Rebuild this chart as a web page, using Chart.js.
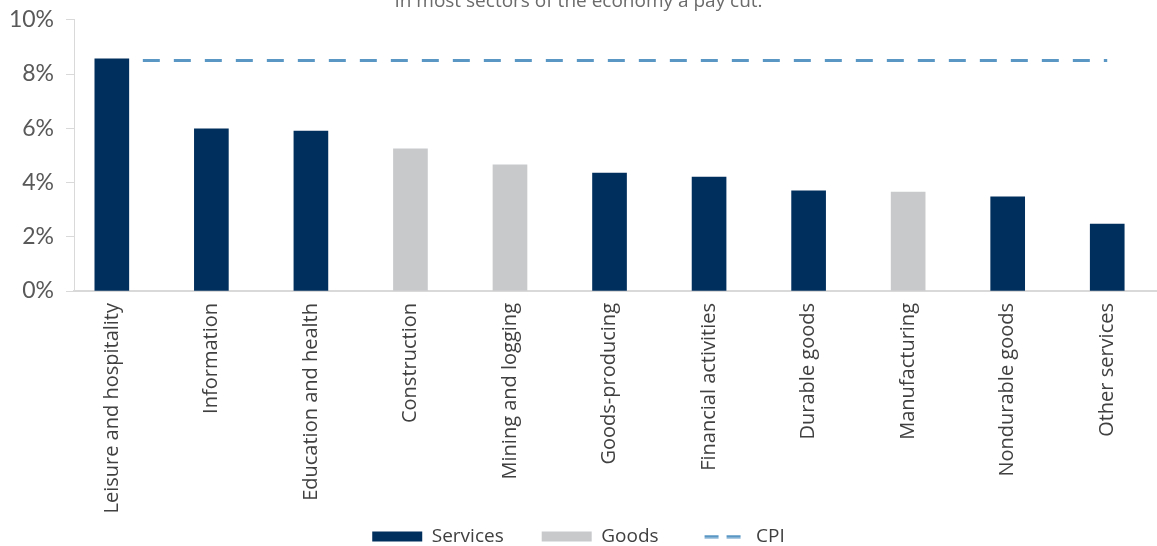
<!DOCTYPE html>
<html lang="en">
<head>
    <meta charset="UTF-8">
    <title>Wage growth by sector vs CPI</title>
    <style>
        html, body { margin: 0; padding: 0; background: #fff; }
        .chart-container { position: relative; width: 1157px; height: 546px; }
    </style>
</head>
<body>
    <div class="chart-container">
        <canvas id="wageChart"></canvas>
    </div>
    <script src="https://cdn.jsdelivr.net/npm/chart.js"></script>
    <script>
        const sectors = ['Leisure and hospitality', 'Information', 'Education and health', 'Construction',
            'Mining and logging', 'Goods-producing', 'Financial activities', 'Durable goods',
            'Manufacturing', 'Nondurable goods', 'Other services'];
        // yoy wage growth, % (null where the sector belongs to the other group)
        const services = [8.56, 5.98, 5.9, null, null, 4.35, 4.2, 3.69, null, 3.47, 2.47];
        const goods = [null, null, null, 5.24, 4.65, null, null, null, 3.65, null, null];
        const cpi = [8.5, 8.5, 8.5, 8.5, 8.5, 8.5, 8.5, 8.5, 8.5, 8.5, 8.5];
        const yTicks = [0, 2, 4, 6, 8, 10];

        const toPoints = arr => arr.map((v, i) => ({ x: i, y: v }));
        const font = 'Open Sans';
        const cpiColor = '#5a97c5';

        // two short dashes for the CPI legend entry
        const dashIcon = document.createElement('canvas');
        dashIcon.width = 50;
        dashIcon.height = 4;
        const dctx = dashIcon.getContext('2d');
        dctx.fillStyle = cpiColor;
        dctx.fillRect(8, 0.5, 14, 3);
        dctx.fillRect(30, 0.5, 14, 3);

        new Chart(document.getElementById('wageChart'), {
            type: 'bar',
            data: {
                datasets: [
                    {
                        label: 'Services',
                        data: toPoints(services),
                        backgroundColor: '#002f5d',
                        barThickness: 34,
                        pointStyle: 'rect',
                        borderWidth: 0,
                    },
                    {
                        label: 'Goods',
                        data: toPoints(goods),
                        backgroundColor: '#c8c9cb',
                        barThickness: 34,
                        pointStyle: 'rect',
                        borderWidth: 0,
                    },
                    {
                        type: 'line',
                        label: 'CPI',
                        data: toPoints(cpi),
                        borderColor: cpiColor,
                        backgroundColor: cpiColor,
                        borderWidth: 3,
                        borderDash: [17, 14],
                        pointRadius: 0,
                        pointStyle: dashIcon,
                    },
                ],
            },
            options: {
                responsive: true,
                maintainAspectRatio: false,
                animation: false,
                skipNull: true,
                layout: { padding: { top: -10, right: 0, left: 0, bottom: -10 } },
                plugins: {
                    title: {
                        display: true,
                        text: 'In most sectors of the economy a pay cut.',
                        color: '#6b6b6b',
                        font: { family: font, size: 19, weight: 'normal' },
                        padding: { top: 0, bottom: 7 },
                    },
                    legend: {
                        position: 'bottom',
                        labels: {
                            usePointStyle: true,
                            pointStyleWidth: 50,
                            boxHeight: 10,
                            padding: 38,
                            color: '#404040',
                            font: { family: font, size: 19 },
                        },
                    },
                    tooltip: { enabled: false },
                },
                scales: {
                    x: {
                        type: 'linear',
                        offset: false,
                        min: -0.38,
                        max: 10.5,
                        afterFit: s => {
                            s.height = 198;
                            // let the long rotated labels run down past the axis box
                            s._computeLabelArea = () => undefined;
                        },
                        afterBuildTicks: s => { s.ticks = sectors.map((_, i) => ({ value: i })); },
                        grid: { display: false },
                        border: { color: '#d9d9d9', width: 2 },
                        ticks: {
                            autoSkip: false,
                            minRotation: 90,
                            maxRotation: 90,
                            padding: 4,
                            color: '#404040',
                            font: { family: font, size: 20 },
                            callback: v => sectors[v],
                        },
                    },
                    y: {
                        min: 0,
                        max: 10,
                        afterFit: s => { s.width = 74; s.paddingTop = 0; },
                        afterBuildTicks: s => { s.ticks = yTicks.map(v => ({ value: v })); },
                        grid: { drawOnChartArea: false, tickLength: 8, color: '#d9d9d9' },
                        border: { color: '#d9d9d9', width: 1 },
                        ticks: {
                            padding: 12,
                            color: '#595959',
                            font: { family: 'Lato', size: 23 },
                            callback: v => v + '%',
                        },
                    },
                },
            },
        });
    </script>
</body>
</html>
